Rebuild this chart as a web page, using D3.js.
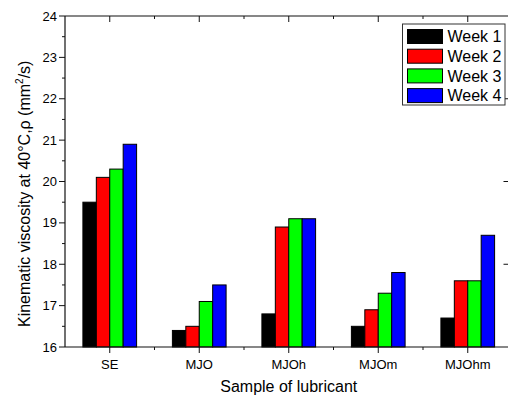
<!DOCTYPE html>
<html>
<head>
<meta charset="utf-8">
<script src="https://cdnjs.cloudflare.com/ajax/libs/d3/7.8.5/d3.min.js"></script>
<style>
  html, body { margin: 0; padding: 0; background: #fff; overflow: hidden; }
  svg { display: block; font-family: "Liberation Sans", Arial, sans-serif; }
</style>
</head>
<body>
<div id="chart"></div>
<script>
// Samples on the x axis
const samples = ["SE", "MJO", "MJOh", "MJOm", "MJOhm"];
const weeks = ["Week 1", "Week 2", "Week 3", "Week 4"];
// one list per week, in sample order
const week1 = [19.5, 16.4, 16.8, 16.5, 16.7];
const week2 = [20.1, 16.5, 18.9, 16.9, 17.6];
const week3 = [20.3, 17.1, 19.1, 17.3, 17.6];
const week4 = [20.9, 17.5, 19.1, 17.8, 18.7];
const yTicks = [16, 17, 18, 19, 20, 21, 22, 23, 24];

const colors = ["#000000", "#ff0000", "#00ff00", "#0000ff"];
const series = [week1, week2, week3, week4];

const W = 508, H = 396;
// plot frame; the right edge runs just past the window, as in the original
const m = { left: 65, top: 16, right: 512.5, bottom: 347 };

const svg = d3.select("#chart").append("svg").attr("width", W).attr("height", H);

const x = d3.scaleBand().domain(samples).range([m.left, m.right]);
const xInner = d3.scaleBand().domain(weeks).range([0, x.bandwidth() * 0.6]);
const y = d3.scaleLinear().domain([16, 24]).range([m.bottom, m.top]);

// bars
const rows = samples.map((s, i) => ({ sample: s, values: series.map((arr, k) => ({ week: weeks[k], v: arr[i], c: colors[k] })) }));

const groups = svg.selectAll(".grp").data(rows).enter().append("g")
  .attr("class", "grp")
  .attr("transform", (d) => `translate(${x(d.sample) + x.bandwidth() * 0.2},0)`);

groups.selectAll("rect").data((d) => d.values).enter().append("rect")
  .attr("x", (d) => xInner(d.week))
  .attr("y", (d) => y(d.v))
  .attr("width", xInner.bandwidth())
  .attr("height", (d) => y(16) - y(d.v))
  .attr("fill", (d) => d.c)
  .attr("stroke", "#000")
  .attr("stroke-width", 1);

// frame (left, top, bottom; the right side is outside the window)
const axisColor = "#111";
const frame = [
  [m.left, m.top, m.left, m.bottom],
  [m.left, m.top, W + 5, m.top],
  [m.left, m.bottom, W + 5, m.bottom],
];
svg.append("g").selectAll("line").data(frame).enter().append("line")
  .attr("x1", (d) => d[0]).attr("y1", (d) => d[1]).attr("x2", (d) => d[2]).attr("y2", (d) => d[3])
  .attr("stroke", axisColor).attr("stroke-width", 1.2);

const minorY = d3.range(16.5, 24, 1);
const centers = samples.map((s) => x(s) + x.bandwidth() / 2);
const bounds = samples.slice(1).map((s) => x(s));

// left axis: outward ticks
svg.append("g").selectAll("line.maj").data(yTicks).enter().append("line")
  .attr("x1", m.left - 6).attr("x2", m.left).attr("y1", (d) => y(d)).attr("y2", (d) => y(d))
  .attr("stroke", axisColor);
svg.append("g").selectAll("line.min").data(minorY).enter().append("line")
  .attr("x1", m.left - 3).attr("x2", m.left).attr("y1", (d) => y(d)).attr("y2", (d) => y(d))
  .attr("stroke", axisColor);
svg.append("g").selectAll("text").data(yTicks).enter().append("text")
  .attr("x", m.left - 8).attr("y", (d) => y(d)).attr("dy", "0.35em")
  .attr("text-anchor", "end").attr("font-size", 13).attr("fill", "#000")
  .text((d) => d);

// right axis: inward ticks
svg.append("g").selectAll("line").data([18, 20, 22]).enter().append("line")
  .attr("x1", m.right - 9).attr("x2", m.right).attr("y1", (d) => y(d)).attr("y2", (d) => y(d))
  .attr("stroke", axisColor);

// bottom axis: outward ticks
svg.append("g").selectAll("line.maj").data(centers).enter().append("line")
  .attr("x1", (d) => d).attr("x2", (d) => d).attr("y1", m.bottom).attr("y2", m.bottom + 6)
  .attr("stroke", axisColor);
svg.append("g").selectAll("line.min").data(bounds).enter().append("line")
  .attr("x1", (d) => d).attr("x2", (d) => d).attr("y1", m.bottom).attr("y2", m.bottom + 3)
  .attr("stroke", axisColor);
svg.append("g").selectAll("text").data(samples).enter().append("text")
  .attr("x", (d) => x(d) + x.bandwidth() / 2).attr("y", 369)
  .attr("text-anchor", "middle").attr("font-size", 13).attr("fill", "#000")
  .text((d) => d);

// top axis: inward ticks
svg.append("g").selectAll("line.maj").data(centers).enter().append("line")
  .attr("x1", (d) => d).attr("x2", (d) => d).attr("y1", m.top).attr("y2", m.top + 6)
  .attr("stroke", axisColor);
svg.append("g").selectAll("line.min").data(bounds).enter().append("line")
  .attr("x1", (d) => d).attr("x2", (d) => d).attr("y1", m.top).attr("y2", m.top + 3)
  .attr("stroke", axisColor);

// axis titles
svg.append("text")
  .attr("x", (m.left + m.right) / 2).attr("y", 392)
  .attr("text-anchor", "middle").attr("font-size", 16).attr("fill", "#000")
  .text("Sample of lubricant");

const yt = svg.append("text")
  .attr("transform", "translate(30,327) rotate(-90)")
  .attr("text-anchor", "start").attr("font-size", 16).attr("fill", "#000");
yt.append("tspan").text("Kinematic viscosity at 40\u00B0C,\u03C1 (mm");
yt.append("tspan").attr("font-size", 10).attr("dy", -7).text("2");
yt.append("tspan").attr("dy", 7).text("/s)");

// legend
const lg = svg.append("g").attr("transform", "translate(402.5,24)");
lg.append("rect").attr("width", 102.5).attr("height", 81)
  .attr("fill", "#fff").attr("stroke", "#333").attr("stroke-width", 1);
const items = lg.selectAll(".item").data(weeks).enter().append("g")
  .attr("transform", (d, i) => `translate(0,${5.5 + i * 19.7})`);
items.append("rect").attr("x", 5).attr("width", 35).attr("height", 14)
  .attr("fill", (d, i) => colors[i]).attr("stroke", "#000");
items.append("text").attr("x", 45).attr("y", 7).attr("dy", "0.36em")
  .attr("font-size", 16).attr("fill", "#000").text((d) => d);
</script>
</body>
</html>
